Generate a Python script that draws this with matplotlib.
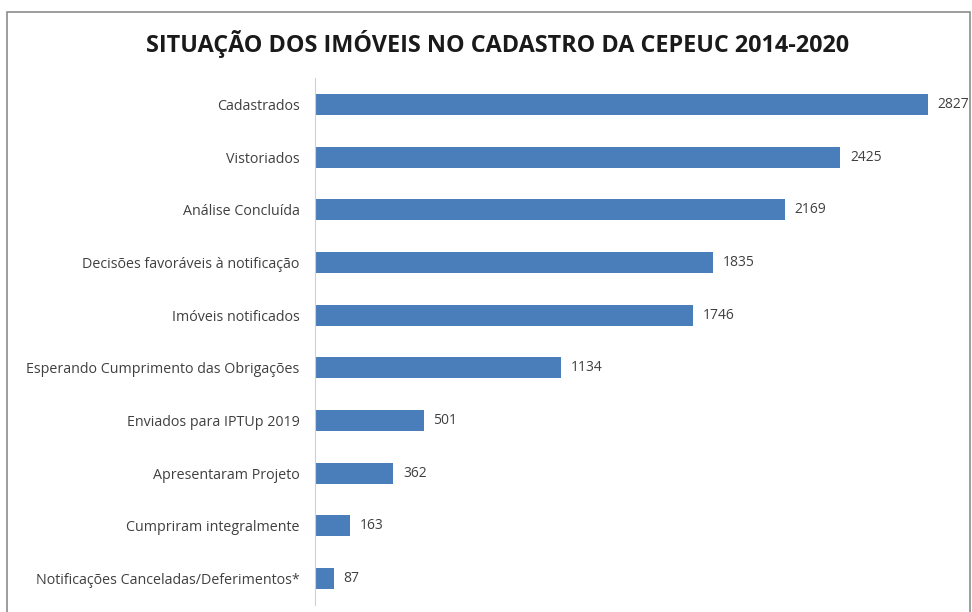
import numpy as np
import matplotlib.pyplot as plt
from matplotlib.patches import Rectangle

categorias = ["Cadastrados", "Vistoriados", "Análise Concluída",
              "Decisões favoráveis à notificação", "Imóveis notificados",
              "Esperando Cumprimento das Obrigações", "Enviados para IPTUp 2019",
              "Apresentaram Projeto", "Cumpriram integralmente",
              "Notificações Canceladas/Deferimentos*"]
valores = [2827, 2425, 2169, 1835, 1746, 1134, 501, 362, 163, 87]
titulo = "SITUAÇÃO DOS IMÓVEIS NO CADASTRO DA CEPEUC 2014-2020"

plt.rcParams['font.family'] = ['Open Sans', 'DejaVu Sans']

W, H = 972, 612
fig = plt.figure(figsize=(W / 100, H / 100), dpi=100)

# moldura do grafico
fig.patches.append(Rectangle((7 / W, -0.1), (970 - 7) / W, 1.1 - 12 / H,
                             transform=fig.transFigure, fill=False,
                             edgecolor='#8c8c8c', linewidth=1.2))

ax = fig.add_axes([315 / W, 7 / H, 650 / W, (605 - 78) / H])
y = np.arange(len(categorias))
ax.barh(y, valores, height=0.40, color='#4A7EBB')
ax.set_xlim(0, 3000)
ax.set_ylim(len(categorias) - 0.5, -0.5)
ax.set_yticks(y)
ax.set_yticklabels(categorias, fontsize=10.3, color='#404040')
ax.tick_params(axis='y', length=0, pad=11)
ax.set_xticks([])
for s in ['top', 'right', 'bottom']:
    ax.spines[s].set_visible(False)
ax.spines['left'].set_color('#d0d0d0')

for yi, v in zip(y, valores):
    ax.text(v + 45, yi, str(v), va='center', ha='left', fontsize=10, color='#404040')

fig.text(498 / W, 1 - 44 / H, titulo, ha='center', va='center',
         fontsize=16.8, fontweight='bold', color='#1a1a1a')

fig.savefig('out.png', dpi=100)
